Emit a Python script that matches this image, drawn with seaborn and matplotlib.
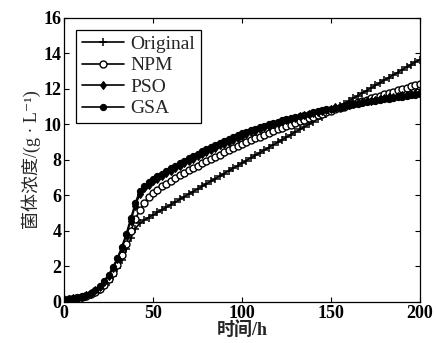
import numpy as np
import pandas as pd
import matplotlib
matplotlib.use("Agg")
import matplotlib.pyplot as plt
import seaborn as sns

# time axis (h), sampled every 2.5 h
time_h = np.arange(0, 200.1, 2.5)

original = [0.10, 0.12, 0.15, 0.19, 0.24, 0.30, 0.39, 0.51, 0.67, 0.88,
            1.14, 1.47, 1.88, 2.38, 2.96, 3.58, 4.12, 4.42, 4.60, 4.75,
            4.89, 5.04, 5.18, 5.33, 5.48, 5.62, 5.77, 5.92, 6.06, 6.21,
            6.35, 6.50, 6.65, 6.79, 6.94, 7.08, 7.23, 7.38, 7.52, 7.67,
            7.81, 7.96, 8.11, 8.25, 8.40, 8.54, 8.69, 8.84, 8.98, 9.13,
            9.27, 9.42, 9.57, 9.71, 9.86, 10.00, 10.15, 10.30, 10.44, 10.59,
            10.73, 10.88, 11.03, 11.17, 11.32, 11.46, 11.61, 11.76, 11.90, 12.05,
            12.19, 12.34, 12.49, 12.63, 12.78, 12.92, 13.07, 13.22, 13.36, 13.51,
            13.65]

npm = [0.12, 0.14, 0.17, 0.21, 0.26, 0.33, 0.43, 0.56, 0.74, 0.97,
       1.26, 1.62, 2.07, 2.62, 3.26, 3.98, 4.65, 5.15, 5.55, 5.88,
       6.12, 6.32, 6.50, 6.66, 6.82, 6.97, 7.12, 7.26, 7.40, 7.54,
       7.67, 7.80, 7.93, 8.06, 8.18, 8.30, 8.42, 8.54, 8.66, 8.77,
       8.88, 8.99, 9.10, 9.21, 9.31, 9.41, 9.51, 9.61, 9.71, 9.81,
       9.90, 9.99, 10.08, 10.17, 10.26, 10.35, 10.44, 10.52, 10.60, 10.68,
       10.76, 10.84, 10.92, 11.00, 11.08, 11.16, 11.24, 11.32, 11.39, 11.47,
       11.54, 11.62, 11.69, 11.77, 11.84, 11.92, 11.99, 12.07, 12.14, 12.22,
       12.30]

pso = [0.14, 0.16, 0.19, 0.24, 0.30, 0.38, 0.50, 0.65, 0.86, 1.13,
       1.46, 1.88, 2.40, 3.02, 3.75, 4.58, 5.40, 6.05, 6.40, 6.60,
       6.78, 6.94, 7.09, 7.24, 7.39, 7.53, 7.67, 7.81, 7.94, 8.07,
       8.20, 8.33, 8.45, 8.57, 8.69, 8.81, 8.92, 9.03, 9.14, 9.25,
       9.36, 9.46, 9.56, 9.65, 9.74, 9.83, 9.92, 10.00, 10.08, 10.16,
       10.24, 10.31, 10.38, 10.45, 10.52, 10.59, 10.65, 10.71, 10.77, 10.83,
       10.89, 10.95, 11.00, 11.05, 11.10, 11.15, 11.20, 11.25, 11.30, 11.34,
       11.39, 11.43, 11.48, 11.52, 11.56, 11.60, 11.64, 11.68, 11.72, 11.76,
       11.80]

gsa = [0.15, 0.17, 0.20, 0.25, 0.31, 0.40, 0.52, 0.68, 0.90, 1.18,
       1.52, 1.95, 2.48, 3.10, 3.85, 4.70, 5.55, 6.25, 6.55, 6.75,
       6.92, 7.08, 7.23, 7.38, 7.53, 7.67, 7.81, 7.95, 8.08, 8.21,
       8.34, 8.47, 8.59, 8.71, 8.83, 8.95, 9.06, 9.17, 9.28, 9.39,
       9.50, 9.59, 9.68, 9.76, 9.84, 9.92, 10.00, 10.08, 10.15, 10.22,
       10.29, 10.36, 10.43, 10.49, 10.55, 10.61, 10.67, 10.73, 10.79, 10.84,
       10.89, 10.94, 10.99, 11.04, 11.08, 11.13, 11.17, 11.21, 11.25, 11.29,
       11.33, 11.37, 11.41, 11.45, 11.49, 11.52, 11.56, 11.59, 11.63, 11.66,
       11.70]

x_ticks = [0, 50, 100, 150, 200]
y_ticks = [0, 2, 4, 6, 8, 10, 12, 14, 16]

sns.set_theme(style="ticks")
plt.rcParams["font.family"] = ["Liberation Serif", "Noto Sans CJK SC", "DejaVu Sans"]

fig = plt.figure(figsize=(4.36, 3.43), dpi=100)
ax = fig.add_axes([0.147, 0.12, 0.816, 0.828])

series = [
    ("Original", original, dict(marker="+", markersize=6, markeredgewidth=1.1)),
    ("NPM", npm, dict(marker="o", markersize=5, markerfacecolor="white", markeredgewidth=1.0)),
    ("PSO", pso, dict(marker="d", markersize=4.5)),
    ("GSA", gsa, dict(marker="o", markersize=4.5)),
]
for name, vals, kw in series:
    sns.lineplot(x=time_h, y=vals, ax=ax, color="black", linewidth=1.2,
                 label=name, markeredgecolor="black", **kw)

ax.set_xlim(0, 200)
ax.set_ylim(0, 16)
ax.set_xticks(x_ticks)
ax.set_yticks(y_ticks)
ax.tick_params(direction="in", length=3.5, width=0.8, labelsize=13,
               top=True, right=True, colors="black", pad=2)
for s in ax.spines.values():
    s.set_linewidth(0.9)
    s.set_color("black")
for lab in ax.get_xticklabels() + ax.get_yticklabels():
    lab.set_fontweight("bold")

ax.set_xlabel("时间/h", fontsize=13, fontweight="bold", labelpad=0)
ax.set_ylabel("菌体浓度/(g · L⁻¹)", fontsize=13, labelpad=2)

leg = ax.legend(loc="upper left", prop={"size": 14}, frameon=True, fancybox=False,
                edgecolor="black", framealpha=1, borderaxespad=0.6,
                handlelength=2.2, handletextpad=0.3, labelspacing=0.2,
                borderpad=0.3)
leg.get_frame().set_linewidth(0.9)

fig.savefig("out.png", dpi=100)
